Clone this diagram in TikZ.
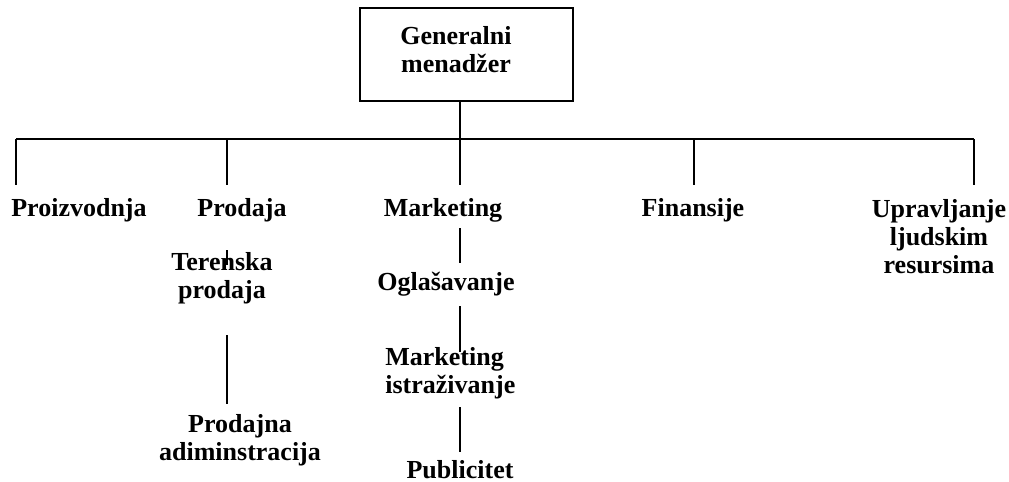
\documentclass[tikz,border=0pt]{standalone}
\usepackage{fontspec}
\setmainfont{Liberation Serif}
\begin{document}
\begin{tikzpicture}[x=0.5pt,y=-0.5pt,
  lbl/.style={font=\bfseries\fontsize{13}{13.8}\selectfont, align=center, anchor=base, inner sep=0pt},
  lblleft/.style={lbl, align=left, anchor=base west},
  conn/.style={line width=0.9pt},
  topbox/.style={draw, line width=0.9pt, minimum width=106.5pt, minimum height=46.5pt, inner sep=0pt}]
\useasboundingbox (0,0) rectangle (1009,482);

% top box (multi-line labels are placed by the baseline of their last line)
\node[topbox] (gm) at (466.5,54.5) {};
\node[lbl] (gmtext) at (456,72) {Generalni\\menadžer};

% bus
\coordinate (bus) at (460,139);
\coordinate (busL) at (16,139);
\coordinate (busR) at (974,139);
\draw[conn] (gm.south -| bus) -- (bus);
\draw[conn] (busL) -- (busR);

% department drops
\foreach \n/\x in {d1/16, d2/227, d3/460, d4/694, d5/974} {
  \coordinate (\n top) at (\x,139);
  \coordinate (\n bot) at (\x,185);
  \draw[conn] (\n top) -- (\n bot);
}

% department labels
\node[lbl] (proiz) at (79,216) {Proizvodnja};
\node[lbl] (prod) at (242,216) {Prodaja};
\node[lbl] (mark) at (443,216) {Marketing};
\node[lbl] (fin) at (693,216) {Finansije};
\node[lbl] (hr) at (939,273) {Upravljanje\\ljudskim\\resursima};

% Prodaja branch
\node[lbl] (teren) at (222,298) {Terenska\\prodaja};
\node[lbl] (padm) at (240,460) {Prodajna\\adiminstracija};
\coordinate (p1a) at (227,250);
\coordinate (p1b) at (227,265);
\coordinate (p2a) at (227,335);
\coordinate (p2b) at (227,404);
\draw[conn] (p1a) -- (p1b);
\draw[conn] (p2a) -- (p2b);

% Marketing branch
\node[lbl] (ogl) at (446,290) {Oglašavanje};
\node[lblleft] (mist) at (385,393) {Marketing\\istraživanje};
\node[lbl] (pub) at (460,478) {Publicitet};
\coordinate (m1a) at (460,228);
\coordinate (m1b) at (460,263);
\coordinate (m2a) at (460,306);
\coordinate (m2b) at (460,352);
\coordinate (m3a) at (460,407);
\coordinate (m3b) at (460,452);
\draw[conn] (m1a) -- (m1b);
\draw[conn] (m2a) -- (m2b);
\draw[conn] (m3a) -- (m3b);
\end{tikzpicture}
\end{document}
